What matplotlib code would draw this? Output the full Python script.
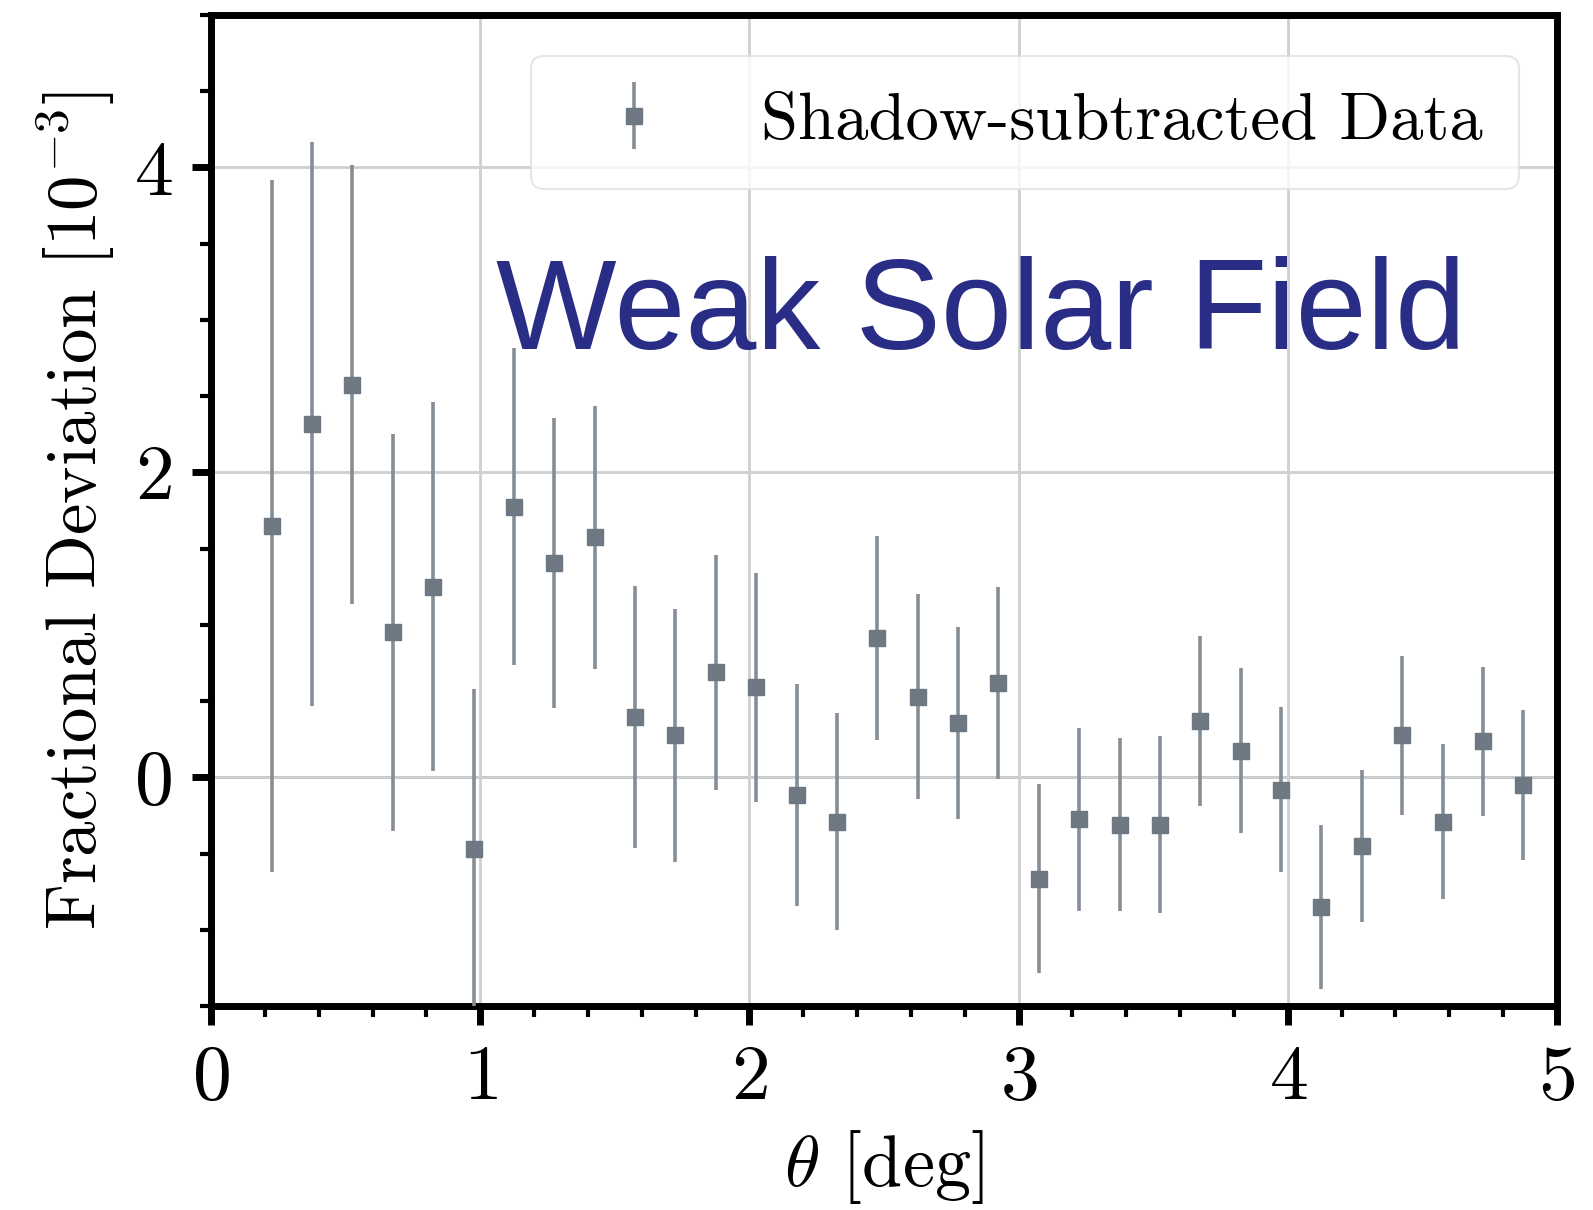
import matplotlib
matplotlib.use("Agg")
import matplotlib.pyplot as plt
from matplotlib.ticker import MultipleLocator

plt.rcParams["font.family"] = "serif"
plt.rcParams["font.serif"] = ["cmr10", "DejaVu Serif"]
plt.rcParams["mathtext.fontset"] = "cm"
plt.rcParams["axes.formatter.use_mathtext"] = True
plt.rcParams["axes.unicode_minus"] = False

# Angular bins (deg) and fractional deviation (units of 1e-3) with 1-sigma errors
theta = [0.225, 0.375, 0.525, 0.675, 0.825, 0.975, 1.125, 1.275, 1.425, 1.575,
         1.725, 1.875, 2.025, 2.175, 2.325, 2.475, 2.625, 2.775, 2.925, 3.075,
         3.225, 3.375, 3.525, 3.675, 3.825, 3.975, 4.125, 4.275, 4.425, 4.575,
         4.725, 4.875]
deviation = [1.65, 2.32, 2.575, 0.95, 1.25, -0.47, 1.775, 1.405, 1.573, 0.397,
             0.276, 0.69, 0.59, -0.115, -0.29, 0.914, 0.53, 0.356, 0.62, -0.665,
             -0.276, -0.31, -0.31, 0.37, 0.175, -0.08, -0.85, -0.45, 0.276, -0.29,
             0.235, -0.05]
error = [2.27, 1.85, 1.44, 1.30, 1.21, 1.05, 1.04, 0.95, 0.86, 0.86,
         0.83, 0.77, 0.75, 0.73, 0.71, 0.67, 0.67, 0.63, 0.63, 0.62,
         0.60, 0.57, 0.58, 0.56, 0.54, 0.54, 0.54, 0.50, 0.52, 0.51,
         0.49, 0.49]

x_ticks = [0, 1, 2, 3, 4, 5]
y_ticks = [0, 2, 4]

fig = plt.figure(figsize=(15.93, 12.10), dpi=100)
ax = fig.add_axes([0.1325, 0.1686, 0.8449, 0.819])

ax.grid(True, which="major", color="#cfcfcf", linewidth=2.0, zorder=0)
ax.axhline(0, color="#8597ab", linewidth=2.0, zorder=1)

ax.errorbar(theta, deviation, yerr=error, fmt="s", color="#6e7882",
            ecolor="#858d96", elinewidth=2.6, markersize=11.5, capsize=0,
            label="Shadow-subtracted Data", zorder=3)

ax.set_xlim(0, 5)
ax.set_ylim(-1.5, 5.0)
ax.set_xticks(x_ticks)
ax.set_yticks(y_ticks)
ax.xaxis.set_minor_locator(MultipleLocator(0.2))
ax.yaxis.set_minor_locator(MultipleLocator(0.5))

for side in ["left", "bottom", "right", "top"]:
    ax.spines[side].set_linewidth(5)
ax.tick_params(axis="both", which="major", direction="out", length=14,
               width=5, labelsize=56, pad=14)
ax.tick_params(axis="both", which="minor", direction="out", length=8,
               width=3)
ax.tick_params(top=False, right=False, which="both")

ax.set_xlabel(r"$\theta$ [deg]", fontsize=52, labelpad=10)
ax.set_ylabel(r"Fractional Deviation $[10^{-3}]$", fontsize=51, labelpad=12)

leg = ax.legend(loc="upper right", fontsize=48, frameon=True, fancybox=True,
                handlelength=2.0, handletextpad=0.9, borderpad=0.55,
                bbox_to_anchor=(0.972, 0.959), borderaxespad=0)
leg.get_frame().set_edgecolor("#e0e0e0")
leg.get_frame().set_linewidth(1.5)

ax.text(1.06, 2.81, "Weak Solar Field", fontsize=92, color="#2a2d85",
        family="Liberation Sans", va="baseline", ha="left", zorder=5)

fig.savefig("out.png", dpi=100)
